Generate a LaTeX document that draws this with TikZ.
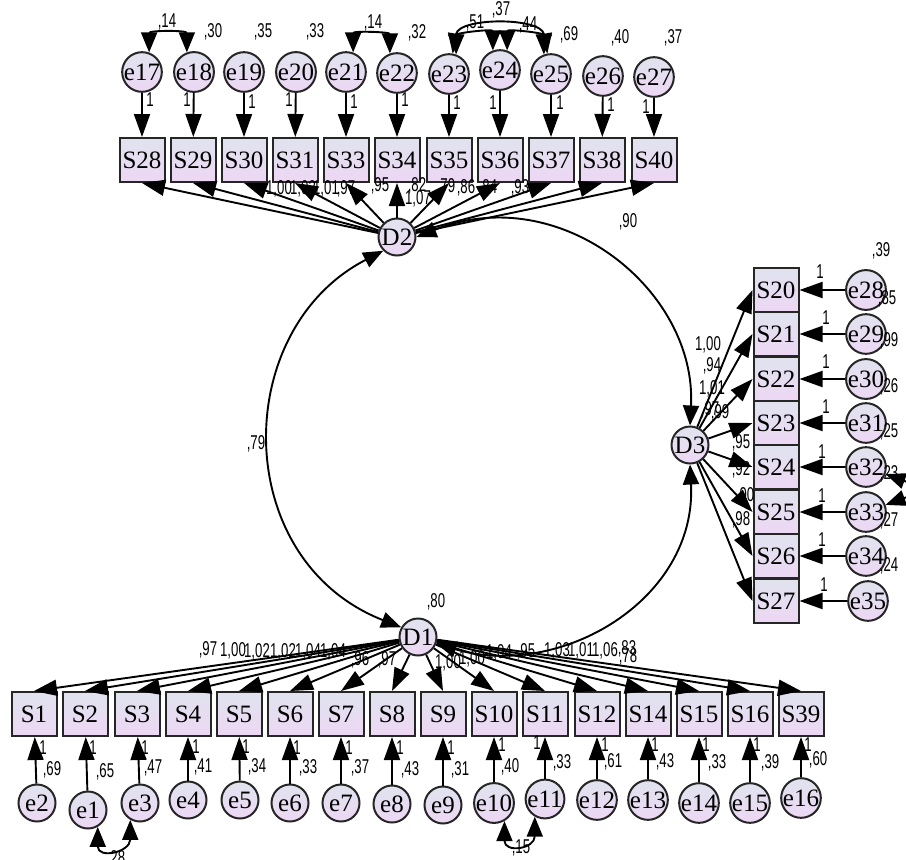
\documentclass[tikz,border=0pt]{standalone}
\usepackage{fontspec}
\setmainfont{Liberation Serif}
\newfontfamily\numfont[FakeStretch=0.66]{Liberation Sans}
\usetikzlibrary{arrows.meta}
\definecolor{boxtop}{RGB}{224,227,238}
\definecolor{boxbot}{RGB}{237,215,244}
\tikzset{
  obs/.style={draw=black!85, line width=2pt, top color=boxtop, bottom color=boxbot,
    minimum width=45pt, minimum height=44pt, inner sep=0pt, font=\fontsize{25}{25}\selectfont},
  err/.style={circle, draw=black!85, line width=2pt, top color=boxtop, bottom color=boxbot,
    minimum size=37pt, inner sep=0pt, font=\fontsize{25}{25}\selectfont},
  est/.style={font=\numfont\fontsize{20}{20}\selectfont, inner sep=0pt},
  cov/.style={<->, >={Triangle[length=20pt,width=16pt]}},
}

\begin{document}
\begin{tikzpicture}[x=1pt, y=-1pt, line width=1.9pt, >={Triangle[length=23pt,width=16pt]}]
	\useasboundingbox (0,0) rectangle (906,860);

	% latent factors
	\node[err] (D2) at (397,237) {D2};
	\node[err] (D3) at (690,445) {D3};
	\node[err] (D1) at (418,637) {D1};

	% top row
	\node[obs] (S28) at (142,160) {S28};
	\node[obs] (S29) at (193,160) {S29};
	\node[obs] (S30) at (244,160) {S30};
	\node[obs] (S31) at (295,160) {S31};
	\node[obs] (S33) at (346,160) {S33};
	\node[obs] (S34) at (397,160) {S34};
	\node[obs] (S35) at (449,160) {S35};
	\node[obs] (S36) at (500,160) {S36};
	\node[obs] (S37) at (551,160) {S37};
	\node[obs] (S38) at (602,160) {S38};
	\node[obs] (S40) at (654,160) {S40};

	\node[err] (e17) at (142,72) {e17};
	\node[err] (e18) at (194,72) {e18};
	\node[err] (e19) at (244,72) {e19};
	\node[err] (e20) at (296,72) {e20};
	\node[err] (e21) at (346,72) {e21};
	\node[err] (e22) at (397,73) {e22};
	\node[err] (e23) at (449,74) {e23};
	\node[err] (e24) at (500,70) {e24};
	\node[err] (e25) at (551,74) {e25};
	\node[err] (e26) at (603,76) {e26};
	\node[err] (e27) at (654,77) {e27};

	% right column
	\node[obs] (S20) at (776,290) {S20};
	\node[obs] (S21) at (776,334) {S21};
	\node[obs] (S22) at (776,379) {S22};
	\node[obs] (S23) at (776,423) {S23};
	\node[obs] (S24) at (776,467) {S24};
	\node[obs] (S25) at (776,512) {S25};
	\node[obs] (S26) at (776,556) {S26};
	\node[obs] (S27) at (776,601) {S27};

	\node[err] (e28) at (866,290) {e28};
	\node[err] (e29) at (866,334) {e29};
	\node[err] (e30) at (866,379) {e30};
	\node[err] (e31) at (866,423) {e31};
	\node[err] (e32) at (866,467) {e32};
	\node[err] (e33) at (866,512) {e33};
	\node[err] (e34) at (866,556) {e34};
	\node[err] (e35) at (868,601) {e35};

	% bottom row
	\node[obs] (S1) at (34,714) {S1};
	\node[obs] (S2) at (85,714) {S2};
	\node[obs] (S3) at (137,714) {S3};
	\node[obs] (S4) at (188,714) {S4};
	\node[obs] (S5) at (239,714) {S5};
	\node[obs] (S6) at (290,714) {S6};
	\node[obs] (S7) at (341,714) {S7};
	\node[obs] (S8) at (392,714) {S8};
	\node[obs] (S9) at (443,714) {S9};
	\node[obs] (S10) at (494,714) {S10};
	\node[obs] (S11) at (545,714) {S11};
	\node[obs] (S12) at (597,714) {S12};
	\node[obs] (S14) at (648,714) {S14};
	\node[obs] (S15) at (699,714) {S15};
	\node[obs] (S16) at (750,714) {S16};
	\node[obs] (S39) at (801,714) {S39};

	\node[err] (e2) at (37,803) {e2};
	\node[err] (e1) at (88,810) {e1};
	\node[err] (e3) at (140,803) {e3};
	\node[err] (e4) at (188,800) {e4};
	\node[err] (e5) at (240,800) {e5};
	\node[err] (e6) at (290,803) {e6};
	\node[err] (e7) at (341,803) {e7};
	\node[err] (e8) at (392,804) {e8};
	\node[err] (e9) at (443,805) {e9};
	\node[err] (e10) at (494,803) {e10};
	\node[err] (e11) at (545,799) {e11};
	\node[err] (e12) at (597,800) {e12};
	\node[err] (e13) at (648,800) {e13};
	\node[err] (e14) at (699,803) {e14};
	\node[err] (e15) at (750,803) {e15};
	\node[err] (e16) at (801,798) {e16};

	% loadings of D2
	\draw[->] (D2) -- (S28.south);
	\draw[->] (D2) -- (S29.south);
	\draw[->] (D2) -- (S30.south);
	\draw[->] (D2) -- (S31.south);
	\draw[->] (D2) -- (S33.south);
	\draw[->] (D2) -- (S34.south);
	\draw[->] (D2) -- (S35.south);
	\draw[->] (D2) -- (S36.south);
	\draw[->] (D2) -- (S37.south);
	\draw[->] (D2) -- (S38.south);
	\draw[->] (D2) -- (S40.south);

	% loadings of D3
	\draw[->] (D3) -- (S20.west);
	\draw[->] (D3) -- (S21.west);
	\draw[->] (D3) -- (S22.west);
	\draw[->] (D3) -- (S23.west);
	\draw[->] (D3) -- (S24.west);
	\draw[->] (D3) -- (S25.west);
	\draw[->] (D3) -- (S26.west);
	\draw[->] (D3) -- (S27.west);

	% loadings of D1
	\draw[->] (D1) -- (S1.north);
	\draw[->] (D1) -- (S2.north);
	\draw[->] (D1) -- (S3.north);
	\draw[->] (D1) -- (S4.north);
	\draw[->] (D1) -- (S5.north);
	\draw[->] (D1) -- (S6.north);
	\draw[->] (D1) -- (S7.north);
	\draw[->] (D1) -- (S8.north);
	\draw[->] (D1) -- (S9.north);
	\draw[->] (D1) -- (S10.north);
	\draw[->] (D1) -- (S11.north);
	\draw[->] (D1) -- (S12.north);
	\draw[->] (D1) -- (S14.north);
	\draw[->] (D1) -- (S15.north);
	\draw[->] (D1) -- (S16.north);
	\draw[->] (D1) -- (S39.north);

	% error terms
	\draw[->] (e17) -- (S28);
	\draw[->] (e18) -- (S29);
	\draw[->] (e19) -- (S30);
	\draw[->] (e20) -- (S31);
	\draw[->] (e21) -- (S33);
	\draw[->] (e22) -- (S34);
	\draw[->] (e23) -- (S35);
	\draw[->] (e24) -- (S36);
	\draw[->] (e25) -- (S37);
	\draw[->] (e26) -- (S38);
	\draw[->] (e27) -- (S40);

	\draw[->] (e28) -- (S20);
	\draw[->] (e29) -- (S21);
	\draw[->] (e30) -- (S22);
	\draw[->] (e31) -- (S23);
	\draw[->] (e32) -- (S24);
	\draw[->] (e33) -- (S25);
	\draw[->] (e34) -- (S26);
	\draw[->] (e35) -- (S27);

	\draw[->] (e2) -- (S1);
	\draw[->] (e1) -- (S2);
	\draw[->] (e3) -- (S3);
	\draw[->] (e4) -- (S4);
	\draw[->] (e5) -- (S5);
	\draw[->] (e6) -- (S6);
	\draw[->] (e7) -- (S7);
	\draw[->] (e8) -- (S8);
	\draw[->] (e9) -- (S9);
	\draw[->] (e10) -- (S10);
	\draw[->] (e11) -- (S11);
	\draw[->] (e12) -- (S12);
	\draw[->] (e13) -- (S14);
	\draw[->] (e14) -- (S15);
	\draw[->] (e15) -- (S16);
	\draw[->] (e16) -- (S39);

	% covariances
	\draw[cov] (D2.east) .. controls (560,180) and (697,290) .. (D3.north);
	\draw[cov] (D2.225) .. controls (230,330) and (230,560) .. (D1.150);
	\draw[cov] (D1.-20) .. controls (560,680) and (697,600) .. (D3.south);

	\draw[cov] (e17.70) to[out=90,in=90,looseness=1.5] (e18.110);
	\draw[cov] (e21.70) to[out=90,in=90,looseness=1.5] (e22.110);
	\draw[cov] (e23.70) to[out=90,in=90,looseness=1.5] (e24.110);
	\draw[cov] (e24.70) to[out=90,in=90,looseness=1.5] (e25.110);
	\draw[cov] (e23.80) to[out=80,in=100,looseness=1] (e25.100);
	\draw[cov] (e1.-60) to[out=-90,in=-90,looseness=2.5] (e3.-120);
	\draw[cov] (e10.-60) to[out=-90,in=-90,looseness=2.7] (e11.-120);
	\draw[cov] (e32.-20) to[out=-20,in=20,looseness=3] (e33.20);

	% estimates
	\node[est] at (628,222) {,90};
	\node[est] at (256,444) {,79};
	\node[est] at (436,602) {,80};

	\node[est] at (167,22) {,14};
	\node[est] at (213,32) {,30};
	\node[est] at (263,32) {,35};
	\node[est] at (315,32) {,33};
	\node[est] at (373,23) {,14};
	\node[est] at (417,33) {,32};
	\node[est] at (475,23) {,51};
	\node[est] at (501,10) {,37};
	\node[est] at (528,25) {,44};
	\node[est] at (569,35) {,69};
	\node[est] at (620,38) {,40};
	\node[est] at (673,38) {,37};

	\node[est] at (150,100) {1};
	\node[est] at (187,100) {1};
	\node[est] at (252,102) {1};
	\node[est] at (289,100) {1};
	\node[est] at (354,102) {1};
	\node[est] at (405,100) {1};
	\node[est] at (457,103) {1};
	\node[est] at (493,103) {1};
	\node[est] at (560,103) {1};
	\node[est] at (611,105) {1};
	\node[est] at (646,107) {1};

	\node[est] at (279,189) {1,00};
	\node[est] at (303,189) {1,03};
	\node[est] at (326,189) {1,01};
	\node[est] at (346,189) {,97};
	\node[est] at (380,186) {,95};
	\node[est] at (417,186) {,82};
	\node[est] at (418,199) {1,07};
	\node[est] at (446,187) {,79};
	\node[est] at (466,188) {,86};
	\node[est] at (488,188) {,84};
	\node[est] at (520,188) {,93};

	\node[est] at (708,345) {1,00};
	\node[est] at (712,366) {,94};
	\node[est] at (712,389) {1,01};
	\node[est] at (710,410) {,97};
	\node[est] at (720,413) {,99};
	\node[est] at (741,443) {,95};
	\node[est] at (741,470) {,92};
	\node[est] at (745,496) {,90};
	\node[est] at (741,520) {,98};

	\node[est] at (820,272) {1};
	\node[est] at (826,318) {1};
	\node[est] at (826,362) {1};
	\node[est] at (826,407) {1};
	\node[est] at (822,452) {1};
	\node[est] at (822,496) {1};
	\node[est] at (822,540) {1};
	\node[est] at (824,585) {1};

	\node[est] at (881,251) {,39};
	\node[est] at (887,299) {,85};
	\node[est] at (889,341) {,99};
	\node[est] at (889,387) {,26};
	\node[est] at (889,432) {,25};
	\node[est] at (889,474) {,23};
	\node[est] at (889,521) {,27};
	\node[est] at (889,566) {,24};

	\node[est] at (208,650) {,97};
	\node[est] at (233,651) {1,00};
	\node[est] at (257,652) {1,02};
	\node[est] at (283,652) {1,02};
	\node[est] at (308,652) {1,04};
	\node[est] at (333,652) {1,04};
	\node[est] at (360,660) {,96};
	\node[est] at (387,660) {,97};
	\node[est] at (448,663) {1,00};
	\node[est] at (472,659) {1,00};
	\node[est] at (499,653) {1,04};
	\node[est] at (526,652) {,95};
	\node[est] at (557,651) {1,03};
	\node[est] at (581,651) {1,01};
	\node[est] at (605,651) {1,06};
	\node[est] at (627,649) {,83};
	\node[est] at (628,657) {,78};

	\node[est] at (43,748) {1};
	\node[est] at (93,748) {1};
	\node[est] at (145,748) {1};
	\node[est] at (196,747) {1};
	\node[est] at (246,747) {1};
	\node[est] at (297,748) {1};
	\node[est] at (349,748) {1};
	\node[est] at (400,748) {1};
	\node[est] at (451,748) {1};
	\node[est] at (502,745) {1};
	\node[est] at (537,743) {1};
	\node[est] at (605,745) {1};
	\node[est] at (655,745) {1};
	\node[est] at (706,745) {1};
	\node[est] at (757,745) {1};
	\node[est] at (808,745) {1};

	\node[est] at (52,770) {,69};
	\node[est] at (105,772) {,65};
	\node[est] at (153,768) {,47};
	\node[est] at (203,767) {,41};
	\node[est] at (257,767) {,34};
	\node[est] at (308,768) {,33};
	\node[est] at (360,768) {,37};
	\node[est] at (410,770) {,43};
	\node[est] at (460,770) {,31};
	\node[est] at (510,767) {,40};
	\node[est] at (562,763) {,33};
	\node[est] at (613,762) {,61};
	\node[est] at (665,762) {,43};
	\node[est] at (717,763) {,33};
	\node[est] at (770,763) {,39};
	\node[est] at (818,760) {,60};
	\node[est] at (116,859) {,28};
	\node[est] at (521,848) {,15};

\end{tikzpicture}
\end{document}
